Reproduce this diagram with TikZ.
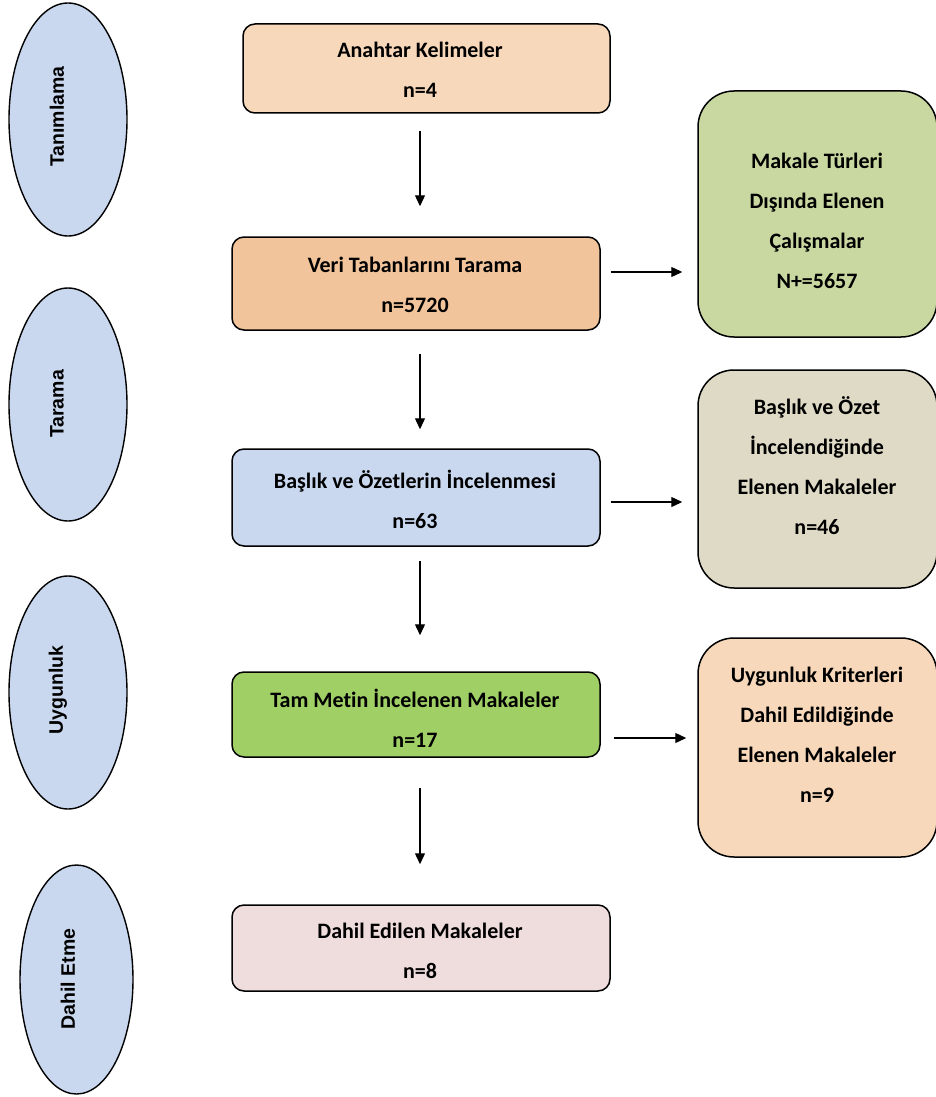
\documentclass[tikz,border=0pt]{standalone}
\usepackage{fontspec}
\newfontfamily\carlito[Ligatures=NoCommon]{Carlito}
\newfontfamily\lsans{Liberation Sans}
\usetikzlibrary{shapes.geometric,arrows.meta}
\definecolor{cPeachL}{RGB}{248,216,186}
\definecolor{cPeach}{RGB}{241,196,155}
\definecolor{cBlue}{RGB}{201,216,239}
\definecolor{cGreen}{RGB}{160,207,102}
\definecolor{cPink}{RGB}{239,220,220}
\definecolor{cOlive}{RGB}{200,216,160}
\definecolor{cTan}{RGB}{222,218,197}
\tikzset{
  mainbox/.style={draw=black, line width=1.5pt, rounded corners=12pt, inner sep=0pt},
  sidebox/.style={draw=black, line width=1.5pt, rounded corners=36pt, inner sep=0pt},
  phase/.style={draw=black, line width=1.4pt, ellipse, inner sep=0pt, fill=cBlue},
  boxtext/.style={align=center, inner sep=0pt, font=\carlito\bfseries\fontsize{22}{40}\selectfont},
  phasetext/.style={rotate=90, inner sep=0pt, font=\lsans\bfseries\fontsize{19.5}{22}\selectfont},
  arr/.style={line width=1.3pt, -{Triangle[width=10pt,length=11pt]}}
}
\begin{document}
\begin{tikzpicture}[x=1pt,y=-1pt]
\useasboundingbox (0,0) rectangle (936,1097);
% phase ellipses
\node[phase, minimum width=118pt, minimum height=233pt] (e1) at (68,119.5) {};
\node[phase, minimum width=118pt, minimum height=233pt] (e2) at (68,404.5) {};
\node[phase, minimum width=118pt, minimum height=233pt] (e3) at (68,692.5) {};
\node[phase, minimum width=113pt, minimum height=229pt] (e4) at (76.5,979.5) {};
\node[phasetext] (e1t) at (57,116.5) {Tanımlama};
\node[phasetext] (e2t) at (57,404) {Tarama};
\node[phasetext] (e3t) at (58,690) {Uygunluk};
\node[phasetext] (e4t) at (68,979) {Dahil Etme};
% main boxes
\node[mainbox, fill=cPeachL, minimum width=367pt, minimum height=89pt] (b1) at (426.5,68.5) {};
\node[mainbox, fill=cPeach, minimum width=368pt, minimum height=93pt] (b2) at (416,283.5) {};
\node[mainbox, fill=cBlue, minimum width=368pt, minimum height=97pt] (b3) at (416,497.5) {};
\node[mainbox, fill=cGreen, minimum width=368pt, minimum height=85pt] (b4) at (416,714.5) {};
\node[mainbox, fill=cPink, minimum width=378pt, minimum height=86pt] (b5) at (421,948) {};
\node[boxtext] (b1t) at (420,70) {Anahtar Kelimeler\\n=4};
\node[boxtext] (b2t) at (415,284.5) {Veri Tabanlarını Tarama\\n=5720};
\node[boxtext] (b3t) at (415,499) {Başlık ve Özetlerin İncelenmesi\\n=63};
\node[boxtext] (b4t) at (415,718.5) {Tam Metin İncelenen Makaleler\\n=17};
\node[boxtext] (b5t) at (420,950.5) {Dahil Edilen Makaleler\\n=8};
% side boxes
\node[sidebox, fill=cOlive, minimum width=239pt, minimum height=246pt] (r1) at (817.5,214) {};
\node[sidebox, fill=cTan, minimum width=239pt, minimum height=218pt] (r2) at (817.5,479) {};
\node[sidebox, fill=cPeachL, minimum width=239pt, minimum height=219pt] (r3) at (817.5,747.5) {};
\node[boxtext] (r1t) at (817,221) {Makale Türleri\\Dışında Elenen\\Çalışmalar\\N+=5657};
\node[boxtext] (r2t) at (817,466) {Başlık ve Özet\\İncelendiğinde\\Elenen Makaleler\\n=46};
\node[boxtext] (r3t) at (817,735) {Uygunluk Kriterleri\\Dahil Edildiğinde\\Elenen Makaleler\\n=9};
% arrows
\coordinate (ax) at (420,0);
\draw[arr, shorten <=17pt, shorten >=30pt] (b1.south -| ax) -- (b2.north -| ax);
\draw[arr, shorten <=23pt, shorten >=19pt] (b2.south -| ax) -- (b3.north -| ax);
\draw[arr, shorten <=14pt, shorten >=36pt] (b3.south -| ax) -- (b4.north -| ax);
\draw[arr, shorten <=30pt, shorten >=40pt] (b4.south -| ax) -- (b5.north -| ax);
\draw[arr, shorten <=10pt, shorten >=15pt] ([yshift=11.5pt]b2.east) -- ([yshift=11.5pt]b2.east -| r1.west);
\draw[arr, shorten <=10pt, shorten >=15pt] ([yshift=-4.5pt]b3.east) -- ([yshift=-4.5pt]b3.east -| r2.west);
\draw[arr, shorten <=13pt, shorten >=11pt] ([yshift=-23.5pt]b4.east) -- ([yshift=-23.5pt]b4.east -| r3.west);
\end{tikzpicture}
\end{document}
